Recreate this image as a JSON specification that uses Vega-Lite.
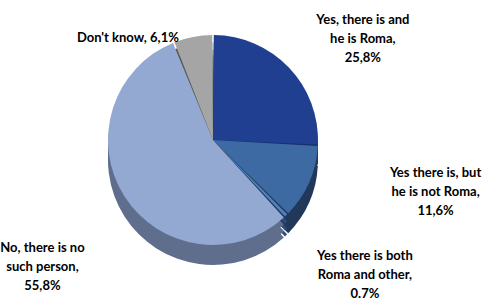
{
  "$schema": "https://vega.github.io/schema/vega-lite/v6.json",
  "width": 426,
  "height": 280,
  "autosize": {"type": "none"},
  "padding": {"left": 0, "top": 0, "right": 65, "bottom": 20},
  "background": "white",
  "view": {"stroke": null},
  "data": {
    "values": [
      {"cat": "Yes, there is and he is Roma", "pct": 25.8, "order": 1, "label": "Yes, there is and\nhe is Roma,\n25,8%"},
      {"cat": "Yes there is, but he is not Roma", "pct": 11.6, "order": 2, "label": "Yes there is, but\nhe is not Roma,\n11,6%"},
      {"cat": "Yes there is both Roma and other", "pct": 0.7, "order": 3, "label": "Yes there is both\nRoma and other,\n0.7%"},
      {"cat": "No, there is no such person", "pct": 55.8, "order": 4, "label": "No, there is no\nsuch person,\n55,8%"},
      {"cat": "Don't know", "pct": 6.1, "order": 5, "label": "Don't know, 6,1%"}
    ]
  },
  "encoding": {
    "theta": {"field": "pct", "type": "quantitative", "stack": true},
    "order": {"field": "order", "type": "quantitative"}
  },
  "layer": [
    {
      "mark": {"type": "arc", "outerRadius": 105, "yOffset": 20, "padAngle": 0.015},
      "encoding": {"color": {"field": "cat", "type": "nominal", "legend": null,
        "scale": {"domain": ["Yes, there is and he is Roma", "Yes there is, but he is not Roma", "Yes there is both Roma and other", "No, there is no such person", "Don't know"],
                  "range": ["#17316E", "#22385A", "#2C4F80", "#5F6E8C", "#555555"]}}}
    },
    {
      "mark": {"type": "arc", "outerRadius": 105, "yOffset": 14, "padAngle": 0.015},
      "encoding": {"color": {"field": "cat", "type": "nominal", "legend": null,
        "scale": {"domain": ["Yes, there is and he is Roma", "Yes there is, but he is not Roma", "Yes there is both Roma and other", "No, there is no such person", "Don't know"],
                  "range": ["#17316E", "#22385A", "#2C4F80", "#5F6E8C", "#555555"]}}}
    },
    {
      "mark": {"type": "arc", "outerRadius": 105, "yOffset": 7, "padAngle": 0.015},
      "encoding": {"color": {"field": "cat", "type": "nominal", "legend": null,
        "scale": {"domain": ["Yes, there is and he is Roma", "Yes there is, but he is not Roma", "Yes there is both Roma and other", "No, there is no such person", "Don't know"],
                  "range": ["#17316E", "#22385A", "#2C4F80", "#5F6E8C", "#555555"]}}}
    },
    {
      "mark": {"type": "arc", "outerRadius": 105, "padAngle": 0.015},
      "encoding": {"color": {"field": "cat", "type": "nominal", "legend": null,
        "scale": {"domain": ["Yes, there is and he is Roma", "Yes there is, but he is not Roma", "Yes there is both Roma and other", "No, there is no such person", "Don't know"],
                  "range": ["#213F91", "#3D6AA2", "#4F81BD", "#93A9D1", "#A5A5A5"]}}}
    },
    {
      "mark": {"type": "text", "radius": 192, "thetaOffset": 0.085, "font": "Lato", "fontWeight": "bold", "fontSize": 13, "lineBreak": "\n", "lineHeight": 19, "align": "center", "baseline": "middle", "color": "black"},
      "encoding": {"text": {"condition": {"test": "datum.order === 1", "field": "label"}, "value": ""}}
    },
    {
      "mark": {"type": "text", "radius": 225, "thetaOffset": -0.268, "font": "Lato", "fontWeight": "bold", "fontSize": 13, "lineBreak": "\n", "lineHeight": 19, "align": "center", "baseline": "middle", "color": "black"},
      "encoding": {"text": {"condition": {"test": "datum.order === 2", "field": "label"}, "value": ""}}
    },
    {
      "mark": {"type": "text", "radius": 191, "thetaOffset": -0.15, "font": "Lato", "fontWeight": "bold", "fontSize": 13, "lineBreak": "\n", "lineHeight": 19, "align": "center", "baseline": "middle", "color": "black"},
      "encoding": {"text": {"condition": {"test": "datum.order === 3", "field": "label"}, "value": ""}}
    },
    {
      "mark": {"type": "text", "radius": 202, "thetaOffset": 0, "font": "Lato", "fontWeight": "bold", "fontSize": 13, "lineBreak": "\n", "lineHeight": 19, "align": "center", "baseline": "middle", "color": "black"},
      "encoding": {"text": {"condition": {"test": "datum.order === 4", "field": "label"}, "value": ""}}
    },
    {
      "mark": {"type": "text", "radius": 133, "thetaOffset": -0.503, "font": "Lato", "fontWeight": "bold", "fontSize": 13, "lineBreak": "\n", "lineHeight": 19, "align": "center", "baseline": "middle", "color": "black"},
      "encoding": {"text": {"condition": {"test": "datum.order === 5", "field": "label"}, "value": ""}}
    }
  ],
  "resolve": {"scale": {"color": "independent"}}
}
